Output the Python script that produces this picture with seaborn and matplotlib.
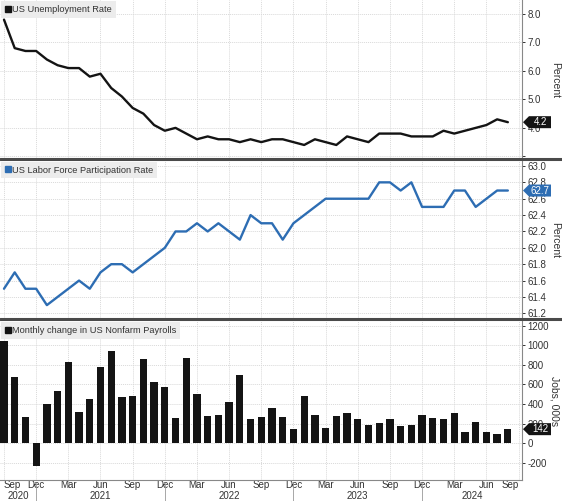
import numpy as np
import pandas as pd
import matplotlib
matplotlib.use('Agg')
import matplotlib.pyplot as plt
from matplotlib.lines import Line2D
from matplotlib.patches import Polygon
import seaborn as sns

# Dữ liệu (Sep 2020 -> Aug 2024, theo tháng)
start_month = '2020-09-01'
unemployment = [7.8, 6.8, 6.7, 6.7, 6.4, 6.2, 6.1, 6.1, 5.8, 5.9, 5.4, 5.1,
                4.7, 4.5, 4.1, 3.9, 4.0, 3.8, 3.6, 3.7, 3.6, 3.6, 3.5, 3.6,
                3.5, 3.6, 3.6, 3.5, 3.4, 3.6, 3.5, 3.4, 3.7, 3.6, 3.5, 3.8,
                3.8, 3.8, 3.7, 3.7, 3.7, 3.9, 3.8, 3.9, 4.0, 4.1, 4.3, 4.2]
participation = [61.5, 61.7, 61.5, 61.5, 61.3, 61.4, 61.5, 61.6, 61.5, 61.7, 61.8, 61.8,
                 61.7, 61.8, 61.9, 62.0, 62.2, 62.2, 62.3, 62.2, 62.3, 62.2, 62.1, 62.4,
                 62.3, 62.3, 62.1, 62.3, 62.4, 62.5, 62.6, 62.6, 62.6, 62.6, 62.6, 62.8,
                 62.8, 62.7, 62.8, 62.5, 62.5, 62.5, 62.7, 62.7, 62.5, 62.6, 62.7, 62.7]
payrolls = [1050, 675, 270, -240, 400, 530, 830, 320, 450, 780, 940, 470,
            480, 860, 630, 570, 255, 870, 500, 275, 290, 425, 695, 245,
            265, 360, 265, 140, 480, 290, 150, 280, 305, 245, 185, 210,
            250, 170, 185, 290, 260, 245, 310, 110, 220, 115, 90, 142]

titles = ['US Unemployment Rate', 'US Labor Force Participation Rate',
          'Monthly change in US Nonfarm Payrolls']
ylabels = ['Percent', 'Percent', 'Jobs, 000s']
tags = ['4.2', '62.7', '142']

BLACK = '#141414'
BLUE = '#2d6db3'
GRID = '#d9d9d9'
TEXT = '#333333'

months = pd.date_range(start_month, periods=len(payrolls) + 1, freq='MS')
df = pd.DataFrame({'idx': np.arange(len(payrolls)),
                   'rate': unemployment,
                   'lfpr': participation,
                   'nfp': payrolls})

sns.set_theme(style='white')
plt.rcParams['font.family'] = ['Liberation Sans', 'DejaVu Sans']
plt.rcParams['font.size'] = 7

W, H = 562, 501
fig = plt.figure(figsize=(W / 100, H / 100), dpi=100)


def add_px_axes(top, bottom, left=0, right=522):
    return fig.add_axes([left / W, 1 - bottom / H, (right - left) / W, (bottom - top) / H])


ax1 = add_px_axes(0, 157.5)
ax2 = add_px_axes(160.5, 317.8)
ax3 = add_px_axes(320.8, 479.5)

sns.lineplot(data=df, x='idx', y='rate', ax=ax1, color=BLACK, lw=1.7)
sns.lineplot(data=df, x='idx', y='lfpr', ax=ax2, color=BLUE, lw=1.7)
sns.barplot(data=df, x='idx', y='nfp', ax=ax3, native_scale=True, color=BLACK,
            saturation=1, width=0.68, linewidth=0)

xmin, xmax = -0.373, 48.32
ylims = [(2.96, 8.49), (61.145, 63.067), (-374, 1253)]
yticks = [np.arange(3, 8.5, 1.0), np.arange(61.2, 63.05, 0.2), np.arange(-200, 1201, 200)]
yfmt = ['{:.1f}', '{:.1f}', '{:.0f}']
colors = [BLACK, BLUE, BLACK]
major_x = np.arange(0, 49, 3)

for i, ax in enumerate([ax1, ax2, ax3]):
    ax.set_xlim(xmin, xmax)
    ax.set_ylim(*ylims[i])
    ax.set_xlabel('')
    ax.set_ylabel('')
    ax.yaxis.tick_right()
    ax.set_yticks(yticks[i])
    labels = [yfmt[i].format(v) for v in yticks[i]]
    if i == 0:
        labels[0] = ''
    ax.set_yticklabels(labels)
    ax.tick_params(axis='y', which='major', direction='out', length=2.5, width=0.7,
                   pad=1.5, colors=TEXT, labelsize=7)
    ax.set_xticks(major_x)
    ax.grid(True, axis='both', color=GRID, linestyle=(0, (1, 1)), linewidth=0.7)
    for side in ['top', 'left', 'bottom']:
        ax.spines[side].set_visible(False)
    ax.spines['right'].set_color('#888888')
    ax.spines['right'].set_linewidth(0.8)

    handle = Line2D([], [], marker='s', color=colors[i], linestyle='none', markersize=4.8)
    leg = ax.legend([handle], [titles[i]], loc='upper left', bbox_to_anchor=(0, 1),
                    borderaxespad=0.15, handlelength=0.6, handletextpad=0.15,
                    borderpad=0.4, fontsize=6.7, frameon=True, fancybox=False,
                    framealpha=1)
    leg.get_frame().set_facecolor('#ececec')
    leg.get_frame().set_edgecolor('none')
    for t in leg.get_texts():
        t.set_color(TEXT)

ax1.tick_params(axis='x', length=0, labelbottom=False)
ax2.tick_params(axis='x', length=0, labelbottom=False)

# Trục x của panel dưới
ax3.spines['bottom'].set_visible(True)
ax3.spines['bottom'].set_color('#888888')
ax3.spines['bottom'].set_linewidth(0.8)
ax3.set_xticks(major_x)
ax3.set_xticklabels([months[m].strftime('%b') for m in major_x])
ax3.set_xticks(np.arange(0, 49), minor=True)
ax3.tick_params(axis='x', which='major', length=2, width=0.6, color='#888888',
                pad=-1.8, labelsize=7, labelcolor=TEXT)
ax3.tick_params(axis='x', which='minor', length=1.5, width=0.6, color='#888888')
xt = ax3.get_xticklabels()
xt[0].set_ha('left')
xt[-1].set_ha('right')

# Năm và vạch phân cách năm
year_breaks = [m for m in range(len(months)) if months[m].month == 12]
bounds = [xmin] + year_breaks + [xmax]
xtrans = ax3.get_xaxis_transform()
for b in year_breaks:
    ax3.plot([b, b], [-0.025, -0.14], transform=xtrans, color='#999999', lw=0.6,
             clip_on=False)
for k in range(len(bounds) - 1):
    yr = months[min(int(np.ceil(bounds[k + 1])) - 1, len(months) - 1)].year
    ax3.text((bounds[k] + bounds[k + 1]) / 2, -0.106, str(yr), transform=xtrans,
             ha='center', va='center', fontsize=7, color=TEXT)

# Nhãn trục y bên phải
for y_px, lab in zip([80, 240, 401], ylabels):
    fig.text(555 / W, 1 - y_px / H, lab, rotation=270, ha='center', va='center',
             fontsize=7.5, color=TEXT)

# Nhãn giá trị cuối cùng (tag)
last_vals = [unemployment[-1], participation[-1], payrolls[-1]]
for ax, val, txt, col in zip([ax1, ax2, ax3], last_vals, tags, colors):
    y = ax.transData.transform((0, val))[1]
    tip, left, right, hh = 523, 529, 551, 6
    verts = [(tip, y), (left, y + hh), (right, y + hh), (right, y - hh), (left, y - hh)]
    verts = [(vx / W, vy / H) for vx, vy in verts]
    fig.add_artist(Polygon(verts, closed=True, transform=fig.transFigure,
                           facecolor=col, edgecolor='none', zorder=5))
    fig.text((left + right) / 2 / W, y / H, txt, ha='center', va='center',
             fontsize=7, color='white', zorder=6)

# Đường phân cách dày giữa các panel
for y_px in [159, 319.3]:
    fig.add_artist(Line2D([0, 1], [1 - y_px / H] * 2, transform=fig.transFigure,
                          color='#4a4a4a', lw=2.2))

fig.savefig('out.png', dpi=100)
